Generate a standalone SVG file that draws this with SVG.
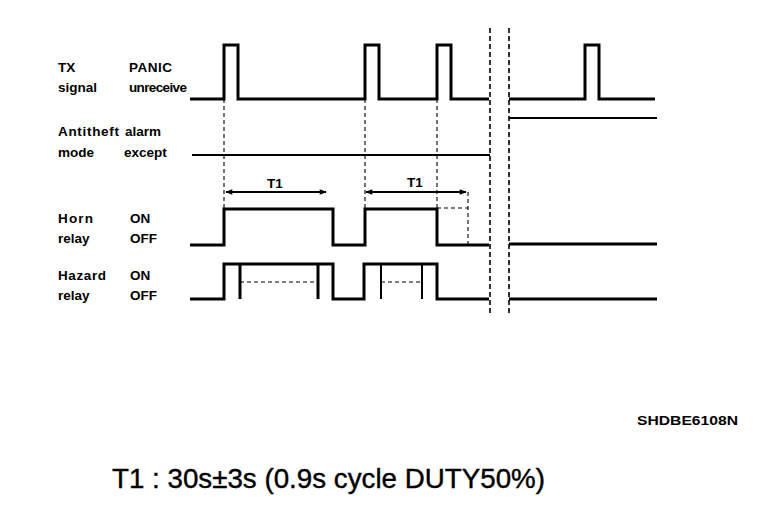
<svg xmlns="http://www.w3.org/2000/svg" width="768" height="522" viewBox="0 0 768 522">
<defs>
<marker id="ah" viewBox="0 0 10 10" refX="9" refY="5" markerWidth="8" markerHeight="7" orient="auto-start-reverse" markerUnits="userSpaceOnUse"><path d="M0,1 L10,5 L0,9 z" fill="#000"/></marker>
<style>
.lbl{font-family:"Liberation Sans",Arial,sans-serif;font-weight:bold;font-size:13.5px;fill:#000}
.wave{fill:none;stroke:#000;stroke-width:3;stroke-linejoin:miter}
.thin{fill:none;stroke:#000;stroke-width:2}
.dash{fill:none;stroke:#000;stroke-width:1.1;stroke-dasharray:4 3}
.sep{fill:none;stroke:#000;stroke-width:1.6;stroke-dasharray:5 3}
.arr{fill:none;stroke:#000;stroke-width:2;marker-start:url(#ah);marker-end:url(#ah)}
</style>
</defs>
<rect width="768" height="522" fill="#fff"/>

<g id="tx-signal">
<text class="lbl" x="58" y="72">TX</text>
<text class="lbl" x="58" y="92">signal</text>
<text class="lbl" x="129" y="72" textLength="43">PANIC</text>
<text class="lbl" x="129" y="92" textLength="58">unreceive</text>
<path class="wave" d="M190,99 H224 V45 H238 V99 H365 V45 H379 V99 H437 V45 H451 V99 H489"/>
<path class="wave" d="M509,99 H585 V45 H599 V99 H655"/>
</g>

<g id="antitheft-mode">
<text class="lbl" x="58" y="136" textLength="61">Antitheft</text>
<text class="lbl" x="58" y="157">mode</text>
<text class="lbl" x="125" y="136">alarm</text>
<text class="lbl" x="124" y="157">except</text>
<path class="thin" d="M192,155 H490"/>
<path class="thin" d="M509,118 H657"/>
</g>

<g id="horn-relay">
<text class="lbl" x="58" y="223" textLength="35">Horn</text>
<text class="lbl" x="58" y="243">relay</text>
<text class="lbl" x="130" y="223">ON</text>
<text class="lbl" x="130" y="243">OFF</text>
<path class="wave" d="M190,245 H224 V209 H333 V245 H365 V209 H437 V245 H489"/>
<path class="wave" d="M509,244 H657"/>
</g>

<g id="hazard-relay">
<text class="lbl" x="58" y="280" textLength="48">Hazard</text>
<text class="lbl" x="58" y="300">relay</text>
<text class="lbl" x="130" y="280">ON</text>
<text class="lbl" x="130" y="300">OFF</text>
<path class="wave" d="M190,299 H224 V264 H333 V299 H364 V264 H437 V299 H489"/>
<path class="wave" d="M240,264 V299 M318,264 V299"/>
<path class="thin" d="M381,264 V299 M422,264 V299"/>
<path class="wave" d="M509,299 H657"/>
</g>

<g id="timing">
<path class="arr" d="M226,192 H326"/>
<text class="lbl" x="275" y="188" text-anchor="middle" font-size="14.5">T1</text>
<path class="arr" d="M366,192 H466"/>
<text class="lbl" x="415" y="187" text-anchor="middle" font-size="14.5">T1</text>
</g>

<g id="connectors">
<path class="dash" d="M224,99 V209 M365,99 V209 M437,99 V209"/>
<path class="dash" d="M468,192 V245 M437,208 H468"/>
<path class="dash" d="M240,282 H318 M381,282 H422"/>
<path class="sep" d="M490,28 V315"/>
<path class="sep" d="M509,28 V315"/>
</g>

<g id="caption">
<text class="lbl" x="637" y="425" font-size="12" textLength="101" lengthAdjust="spacingAndGlyphs">SHDBE6108N</text>
<text x="112" y="488" font-family="'Liberation Sans',Arial,sans-serif" font-size="27.5" fill="#000" stroke="#000" stroke-width="0.4" textLength="433" lengthAdjust="spacingAndGlyphs">T1 : 30s±3s (0.9s cycle DUTY50%)</text>
</g>
</svg>
